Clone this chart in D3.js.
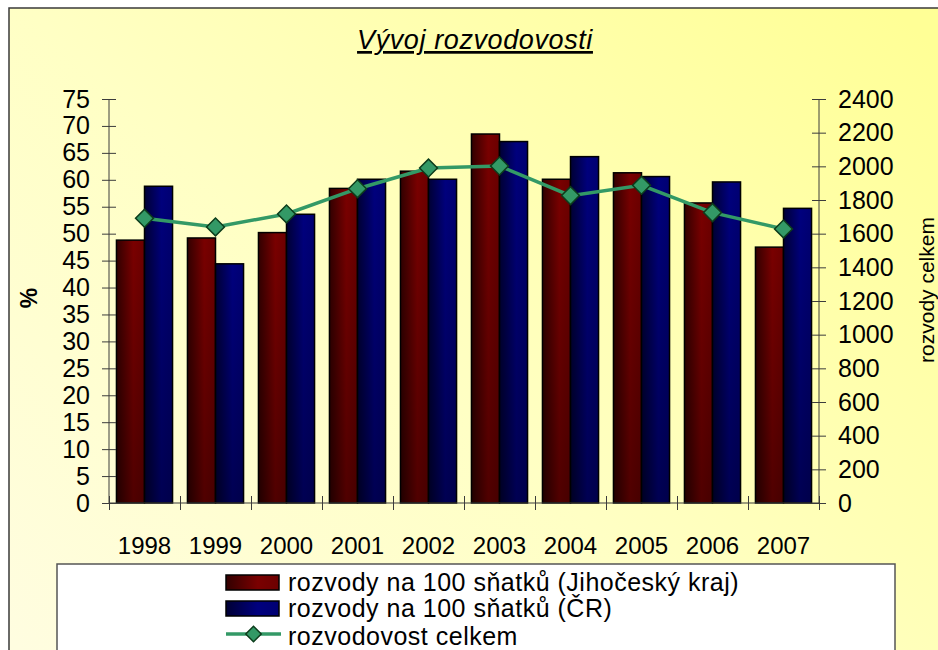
<!DOCTYPE html>
<html>
<head>
<meta charset="utf-8">
<script src="https://cdn.jsdelivr.net/npm/d3@7"></script>
<style>
  body { margin: 0; background: #fff; }
  svg text { font-family: "Liberation Sans", Arial, sans-serif; fill: #000; }
</style>
</head>
<body>
<div class="box"></div>
<script>
// data
const years = ["1998", "1999", "2000", "2001", "2002", "2003", "2004", "2005", "2006", "2007"];
const jihocesky = [48.8, 49.2, 50.2, 58.4, 61.6, 68.5, 60.1, 61.3, 55.7, 47.5];
const cr = [58.8, 44.4, 53.6, 60.1, 60.1, 67.1, 64.3, 60.6, 59.6, 54.7];
const celkem = [1691, 1640, 1717, 1867, 1990, 2002, 1826, 1887, 1725, 1628];
const seriesNames = ["rozvody na 100 sňatků (Jihočeský kraj)", "rozvody na 100 sňatků (ČR)", "rozvodovost celkem"];
const leftTicks = d3.range(0, 80, 5);
const rightTicks = d3.range(0, 2600, 200);

const w = 938;
const h = 650;
const plotLeft = 109, plotRight = 819, plotTop = 99, plotBottom = 503;

const svg = d3.select(".box")
    .append("svg")
    .attr("width", w)
    .attr("height", h);

// GRADIENTS
const defs = svg.append("defs");

const bg = defs.append("linearGradient").attr("id", "bg")
    .attr("x1", 0).attr("y1", 0.9).attr("x2", 1).attr("y2", 0.1);
bg.append("stop").attr("offset", "0%").attr("stop-color", "#fffde0");
bg.append("stop").attr("offset", "45%").attr("stop-color", "#ffffc4");
bg.append("stop").attr("offset", "100%").attr("stop-color", "#ffff96");

function barGradient(id, dark, mid, end) {
    const g = defs.append("linearGradient").attr("id", id)
        .attr("x1", 0).attr("y1", 0).attr("x2", 1).attr("y2", 0);
    g.append("stop").attr("offset", "0%").attr("stop-color", dark);
    g.append("stop").attr("offset", "60%").attr("stop-color", mid);
    g.append("stop").attr("offset", "100%").attr("stop-color", end);
}
barGradient("red", "#320000", "#7a0000", "#6c0000");
barGradient("blue", "#000034", "#00007e", "#000072");

// a little darker to the bottom, like the original
const shade = defs.append("linearGradient").attr("id", "shade")
    .attr("x1", 0).attr("y1", 0).attr("x2", 0).attr("y2", 1);
shade.append("stop").attr("offset", "0%").attr("stop-color", "#000").attr("stop-opacity", 0);
shade.append("stop").attr("offset", "100%").attr("stop-color", "#000").attr("stop-opacity", 0.35);

// CHART FRAME
svg.append("rect")
    .attr("x", 9).attr("y", 8)
    .attr("width", 960).attr("height", 700)
    .style("fill", "url(#bg)")
    .style("stroke", "#3a3a3a")
    .style("stroke-width", 1.5);

// TITLE
svg.append("text")
    .attr("x", 475).attr("y", 49)
    .attr("text-anchor", "middle")
    .style("font-size", "27px")
    .style("letter-spacing", "0.6px")
    .style("font-style", "italic")
    .style("text-decoration", "underline")
    .text("Vývoj rozvodovosti");

// SCALES
const x = d3.scaleBand()
    .domain(years)
    .range([plotLeft, plotRight])
    .paddingInner(0.21)
    .paddingOuter(0.105);

const xInner = d3.scaleBand()
    .domain([0, 1])
    .range([0, x.bandwidth()]);

const xEdge = d3.scaleLinear()
    .domain([0, years.length])
    .range([plotLeft, plotRight]);

const yLeft = d3.scaleLinear().domain([0, 75]).range([plotBottom, plotTop]);
const yRight = d3.scaleLinear().domain([0, 2400]).range([plotBottom, plotTop]);

// BARS
const series = [jihocesky, cr];
const fills = ["url(#red)", "url(#blue)"];

series.forEach(function(values, s) {
    const g = svg.append("g");
    g.selectAll("rect.bar")
        .data(values)
        .enter()
        .append("rect")
        .attr("class", "bar")
        .attr("x", (d, i) => x(years[i]) + xInner(s))
        .attr("y", d => yLeft(d))
        .attr("width", xInner.bandwidth())
        .attr("height", d => plotBottom - yLeft(d))
        .style("fill", fills[s]);
    g.selectAll("rect.shade")
        .data(values)
        .enter()
        .append("rect")
        .attr("class", "shade")
        .attr("x", (d, i) => x(years[i]) + xInner(s))
        .attr("y", d => yLeft(d))
        .attr("width", xInner.bandwidth())
        .attr("height", d => plotBottom - yLeft(d))
        .style("fill", "url(#shade)")
        .style("stroke", "#000")
        .style("stroke-width", 1.5);
});

// AXES
const axisColor = "#3c3c3c";

const leftAxis = svg.append("g")
    .attr("transform", "translate(" + plotLeft + ",0)")
    .call(d3.axisLeft(yLeft).tickValues(leftTicks).tickSize(7).tickPadding(12));

// no thousands separator on the right, e.g. "2400"
const rightAxis = svg.append("g")
    .attr("transform", "translate(" + plotRight + ",0)")
    .call(d3.axisRight(yRight).tickValues(rightTicks).tickFormat(d3.format("d")).tickSize(7).tickPadding(12));

const bottomAxis = svg.append("g")
    .attr("transform", "translate(0," + plotBottom + ")")
    .call(d3.axisBottom(xEdge).ticks(years.length).tickFormat("").tickSize(7));

// ticks cross the axis lines
leftAxis.selectAll(".tick line").attr("x1", 7);
rightAxis.selectAll(".tick line").attr("x1", -7);
bottomAxis.selectAll(".tick line").attr("y1", -7);

[leftAxis, rightAxis, bottomAxis].forEach(function(a) {
    a.select(".domain").remove();
    a.selectAll("line").style("stroke", axisColor);
    a.selectAll("text").style("font-size", "25px").attr("font-family", null).attr("fill", "#000");
});

// plain axis lines
svg.append("line").attr("x1", plotLeft).attr("x2", plotLeft).attr("y1", plotTop).attr("y2", plotBottom).style("stroke", axisColor);
svg.append("line").attr("x1", plotRight).attr("x2", plotRight).attr("y1", plotTop).attr("y2", plotBottom).style("stroke", axisColor);
svg.append("line").attr("x1", plotLeft).attr("x2", plotRight).attr("y1", plotBottom).attr("y2", plotBottom).style("stroke", axisColor);

// year labels under the categories
const yearAxis = svg.append("g")
    .attr("transform", "translate(0," + plotBottom + ")")
    .call(d3.axisBottom(x).tickSize(0));
yearAxis.select(".domain").remove();
yearAxis.selectAll("text")
    .attr("y", 51)
    .attr("dy", 0)
    .style("font-size", "24px")
    .attr("font-family", null)
    .attr("fill", "#000");

// AXIS NAMES
svg.append("text")
    .attr("transform", "translate(37,298) rotate(-90)")
    .attr("text-anchor", "middle")
    .style("font-size", "23px")
    .style("font-weight", "bold")
    .text("%");

svg.append("text")
    .attr("transform", "translate(934,290) rotate(-90)")
    .attr("text-anchor", "middle")
    .style("font-size", "21px")
    .text("rozvody celkem");

// LINE
const lineColor = "#339966";
const line = d3.line()
    .x((d, i) => x(years[i]) + x.bandwidth() / 2)
    .y(d => yRight(d));

svg.append("path")
    .datum(celkem)
    .attr("d", line)
    .style("fill", "none")
    .style("stroke", lineColor)
    .style("stroke-width", 3.5);

const diamond = d3.symbol().type(d3.symbolSquare);

svg.selectAll("path.marker")
    .data(celkem)
    .enter()
    .append("path")
    .attr("class", "marker")
    .attr("d", diamond.size(160)())
    .attr("transform", (d, i) => "translate(" + (x(years[i]) + x.bandwidth() / 2) + "," + yRight(d) + ") rotate(45)")
    .style("fill", lineColor)
    .style("stroke", "#0d3d1c")
    .style("stroke-width", 1.5);

// LEGEND
const legend = svg.append("g").attr("id", "legend");

legend.append("rect")
    .attr("x", 57).attr("y", 564)
    .attr("width", 838).attr("height", 120)
    .style("fill", "#fff")
    .style("stroke", "#555")
    .style("stroke-width", 1.5);

const rowY = [591, 617, 645];

[0, 1].forEach(function(s) {
    legend.append("rect")
        .attr("x", 226).attr("y", rowY[s] - 16)
        .attr("width", 53).attr("height", 15)
        .style("fill", fills[s])
        .style("stroke", "#000")
        .style("stroke-width", 1.5);
});

legend.append("line")
    .attr("x1", 226).attr("x2", 281)
    .attr("y1", rowY[2] - 11).attr("y2", rowY[2] - 11)
    .style("stroke", lineColor)
    .style("stroke-width", 3.5);

legend.append("path")
    .attr("d", diamond.size(120)())
    .attr("transform", "translate(253.5," + (rowY[2] - 11) + ") rotate(45)")
    .style("fill", lineColor)
    .style("stroke", "#0d3d1c")
    .style("stroke-width", 1.5);

legend.selectAll("text")
    .data(seriesNames)
    .enter()
    .append("text")
    .attr("x", 288)
    .attr("y", (d, i) => rowY[i])
    .style("font-size", "25px")
    .style("letter-spacing", "0.5px")
    .text(d => d);
</script>
</body>
</html>
